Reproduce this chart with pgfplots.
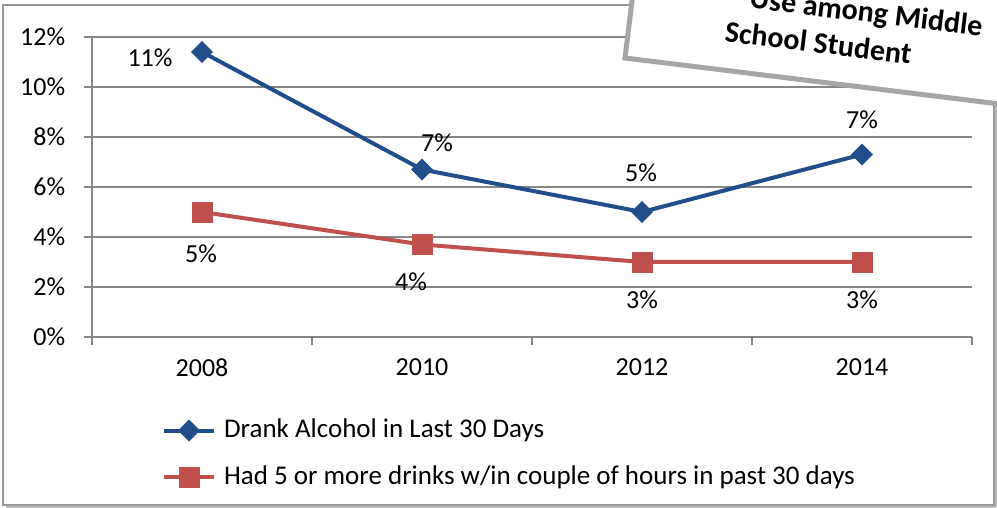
\documentclass[border=0pt]{standalone}
\usepackage{fontspec}
\setmainfont{Carlito}
\usepackage{pgfplots}
\pgfplotsset{compat=1.18}
\definecolor{alcblue}{RGB}{33,77,138}
\definecolor{bingered}{RGB}{192,80,77}
\definecolor{gridgray}{RGB}{134,134,134}
\begin{document}
\fontsize{26}{31}\selectfont
\begin{tikzpicture}
\useasboundingbox (0,0) rectangle (997pt,508pt);
% outer chart frame with shadow
\fill[white] (3pt,3pt) rectangle (994pt,503pt);
\draw[gray!55, line width=4pt] (996pt,1pt) -- (996pt,500pt);
\draw[gray!55, line width=4pt] (6pt,1pt) -- (996pt,1pt);
\draw[gray!80, line width=1.5pt] (3pt,3pt) rectangle (994pt,503pt);

\begin{axis}[
    at={(92pt,171pt)}, anchor=south west,
    scale only axis,
    width=880pt, height=300pt,
    xmin=-0.5, xmax=3.5,
    ymin=0, ymax=12,
    xtick={0,1,2,3},
    xticklabels={2008,2010,2012,2014},
    minor xtick={-0.5,0.5,1.5,2.5,3.5},
    ytick={0,2,...,12},
    yticklabel={\pgfmathprintnumber[assume math mode=true]{\tick}\%},
    tick align=outside,
    major tick length=8pt,
    minor tick length=8pt,
    xtick style={draw=none},
    minor x tick style={draw=gridgray, line width=1.5pt},
    ytick style={draw=gridgray, line width=1.5pt},
    ymajorgrids,
    grid style={gridgray, line width=1.5pt},
    axis x line*=bottom, axis y line*=left,
    axis line style={gridgray, line width=1.5pt, -},
    xticklabel style={yshift=-5pt},
    yticklabel style={xshift=-10pt},
    clip=false,
    legend style={at={(0.076,-0.26)}, anchor=north west, draw=none,
        fill=none, row sep=20pt, cells={anchor=west},
        /tikz/every odd column/.append style={column sep=6pt},
        font=\fontsize{27}{32}\selectfont},
    legend cell align=left,
    legend image code/.code={
        \draw[#1, mark repeat=2, mark phase=2]
            plot coordinates {(0pt,0pt) (25pt,0pt) (50pt,0pt)};
    },
    nodes near coords={\pgfplotspointmeta\%},
    point meta=explicit symbolic,
    visualization depends on={value \thisrow{dx} \as \dx},
    visualization depends on={value \thisrow{dy} \as \dy},
    nodes near coords style={anchor=center, xshift=\dx pt, yshift=\dy pt,
        text=black, font=\fontsize{26}{31}\selectfont},
]
\addplot[alcblue, line width=4pt, mark=square*,
    mark options={rotate=45, mark size=7.5pt, line width=0.5pt, fill=alcblue}]
    table[x=x, y=y, meta=lab] {
x y lab dx dy
0 11.4 11 -52 -6
1 6.7 7 15 27
2 5.0 5 -1 39
3 7.3 7 0 35
};
\addlegendentry{Drank Alcohol in Last 30 Days}
\addplot[bingered, line width=4pt, mark=square*,
    mark options={mark size=10pt, line width=0.5pt, fill=bingered}]
    table[x=x, y=y, meta=lab] {
x y lab dx dy
0 5.0 5 -1 -42
1 3.7 4 -11 -37
2 3.0 3 0 -38
3 3.0 3 0 -38
};
\addlegendentry{Had 5 or more drinks w/in couple of hours in past 30 days}
\end{axis}

% tilted title box, partly outside the picture
\begin{scope}[shift={(625pt,450pt)}, rotate=-7]
\draw[fill=white, draw=gray!70, line width=5pt] (0pt,0pt) rectangle (500pt,160pt);
\node[transform shape, font=\fontsize{30}{35}\selectfont\bfseries] at (234pt,73pt) {Use among Middle};
\node[transform shape, font=\fontsize{30}{35}\selectfont\bfseries] at (190pt,39pt) {School Student};
\end{scope}
\end{tikzpicture}
\end{document}
